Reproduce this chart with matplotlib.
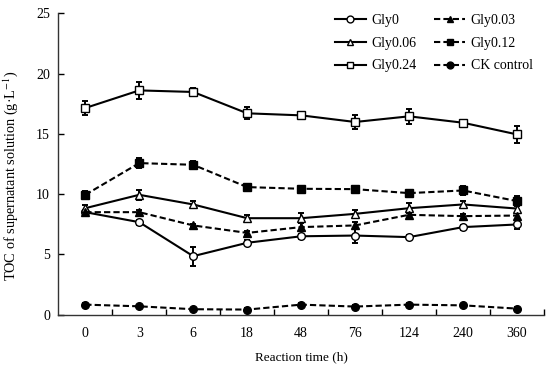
import matplotlib.pyplot as plt
import numpy as np

plt.rcParams['font.family'] = ['Liberation Serif', 'DejaVu Serif']
plt.rcParams['mathtext.fontset'] = 'stix'

times = ['0', '3', '6', '18', '48', '76', '124', '240', '360']

gly0 = [8.5, 7.67, 4.85, 5.96, 6.5, 6.56, 6.43, 7.26, 7.48]
gly0_err = [0.2, 0.2, 0.8, 0.2, 0.2, 0.6, 0.15, 0.2, 0.4]
gly003 = [8.5, 8.5, 7.4, 6.78, 7.26, 7.4, 8.28, 8.17, 8.22]
gly003_err = [0.15, 0.15, 0.15, 0.15, 0.3, 0.3, 0.3, 0.2, 0.3]
gly006 = [8.83, 9.94, 9.14, 8.0, 8.0, 8.36, 8.83, 9.14, 8.8]
gly006_err = [0.3, 0.4, 0.3, 0.3, 0.4, 0.3, 0.4, 0.3, 0.3]
gly012 = [9.94, 12.57, 12.43, 10.58, 10.44, 10.41, 10.08, 10.3, 9.42]
gly012_err = [0.3, 0.4, 0.3, 0.2, 0.2, 0.3, 0.3, 0.4, 0.4]
gly024 = [17.14, 18.6, 18.47, 16.7, 16.53, 15.98, 16.45, 15.92, 14.95]
gly024_err = [0.6, 0.7, 0.3, 0.5, 0.2, 0.6, 0.6, 0.2, 0.7]
ck = [0.83, 0.69, 0.45, 0.42, 0.83, 0.67, 0.83, 0.77, 0.5]
ck_err = [0.1, 0.1, 0.1, 0.1, 0.1, 0.1, 0.1, 0.1, 0.1]

x = np.arange(len(times))

fig = plt.figure(figsize=(5.5, 3.68), dpi=100)
ax = fig.add_axes([0.106, 0.145, 0.883, 0.819])

dash = (0, (3, 1.5))
series = [
    ('Gly0', gly0, gly0_err, 'o', 'white', '-'),
    ('Gly0.06', gly006, gly006_err, '^', 'white', '-'),
    ('Gly0.24', gly024, gly024_err, 's', 'white', '-'),
    ('Gly0.03', gly003, gly003_err, '^', 'black', dash),
    ('Gly0.12', gly012, gly012_err, 's', 'black', dash),
    ('CK control', ck, ck_err, 'o', 'black', dash),
]

handles = []
for name, y, err, m, fc, ls in series:
    ax.errorbar(x, y, yerr=err, fmt='none', ecolor='black', elinewidth=1.4,
                capsize=2.2, capthick=1.4, zorder=2)
    h, = ax.plot(x, y, color='black', linestyle=ls, linewidth=1.5, marker=m,
                 markersize=5.5, markerfacecolor=fc, markeredgecolor='black',
                 markeredgewidth=1.0, label=name, zorder=3)
    handles.append(h)

ax.set_xlim(-0.5, 8.5)
ax.set_ylim(0, 25)
ax.set_yticks([0, 5, 10, 15, 20, 25])
ax.set_xticks(x)
ax.set_xticklabels(times)
ax.set_xticks(np.arange(0.5, 9, 1), minor=True)
ax.tick_params(axis='x', which='major', length=0, pad=9, labelsize=10)
ax.tick_params(axis='x', which='minor', direction='in', length=4, width=1)
ax.tick_params(axis='y', direction='in', length=4, width=1, labelsize=10, pad=6)

for s in ['top', 'right']:
    ax.spines[s].set_visible(False)
for s in ['left', 'bottom']:
    ax.spines[s].set_linewidth(1.0)
    ax.spines[s].set_color('#333333')

ax.set_xlabel('Reaction time (h)', fontsize=9.5, labelpad=8)
ax.set_ylabel('TOC of supernatant solution (g·L$^{-1}$)', fontsize=10.3)
ax.yaxis.set_label_coords(-0.078, 0.46)

ax.legend(handles=handles, ncol=2, frameon=False, fontsize=10,
          loc='upper left', bbox_to_anchor=(335 / 550, 1 - 14 / 368),
          bbox_transform=fig.transFigure, borderpad=0, borderaxespad=0,
          handlelength=2.2, columnspacing=1.3, labelspacing=0.7,
          handletextpad=0.4, markerscale=0.9)

fig.savefig('out.png', dpi=100)
